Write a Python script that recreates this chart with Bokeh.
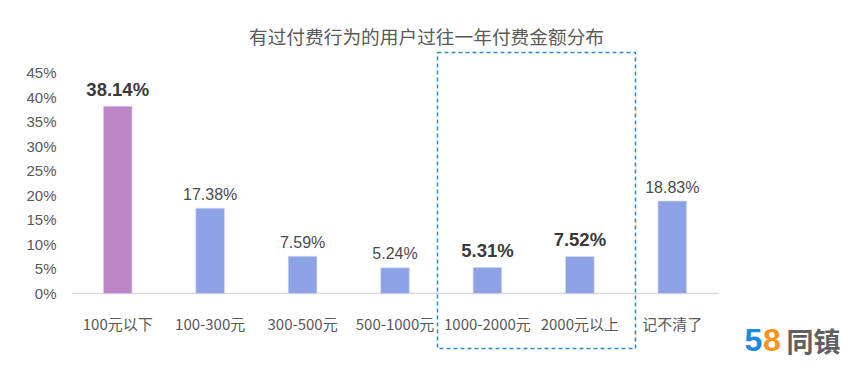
from bokeh.plotting import figure
from bokeh.models import Range1d, FixedTicker, PrintfTickFormatter, ColumnDataSource
from bokeh.core.properties import value
from bokeh.embed import file_html
from bokeh.resources import INLINE

# ---- data ----
categories = ["100元以下", "100-300元", "300-500元", "500-1000元",
              "1000-2000元", "2000元以上", "记不清了"]
shares = [38.14, 17.38, 7.59, 5.24, 5.31, 7.52, 18.83]
label_texts = ["38.14%", "17.38%", "7.59%", "5.24%", "5.31%", "7.52%", "18.83%"]
y_ticks = [0, 5, 10, 15, 20, 25, 30, 35, 40, 45]
title_text = "有过付费行为的用户过往一年付费金额分布"

# ---- style ----
CJK = "Noto Sans CJK SC"
LAT = "Liberation Sans"
PURPLE = "#bd84c6"
BLUE = "#8ca2e4"
W, H = 864, 368
FL, FR, FT, FB = 71, 718, 72, 293   # pixel edges of the bar area
Y_MAX = 45
n = len(categories)
UNIT = (FR - FL) / n                  # pixels per category


def dx(px):
    return (px - FL) / UNIT


def dy(py):
    return (FB - py) / (FB - FT) * Y_MAX


xs = [i + 0.5 for i in range(n)]
bar_colors = [PURPLE if i == 0 else BLUE for i in range(n)]
bold_idx = {0, 4, 5}
font_sizes = ["18.5px" if i in bold_idx else "16px" for i in range(n)]
font_styles = ["bold" if i in bold_idx else "normal" for i in range(n)]
label_colors = ["#3a3a3a" if i in bold_idx else "#4a4a4a" for i in range(n)]
label_offsets = [-17 if i in bold_idx else -14 for i in range(n)]

src = ColumnDataSource(dict(x=xs, cat=categories, val=shares, color=bar_colors,
                            lab=label_texts, fs=font_sizes, fst=font_styles,
                            lc=label_colors, yo=label_offsets, zero=[0] * n))

p = figure(width=W, height=H,
           x_range=Range1d(0, dx(W)), y_range=Range1d(dy(H), dy(0)),
           output_backend="svg", toolbar_location=None, x_axis_location=None,
           min_border_left=FL, min_border_right=0,
           min_border_top=0, min_border_bottom=0)
p.outline_line_color = None
p.xgrid.grid_line_color = None
p.ygrid.grid_line_color = None
p.background_fill_color = "white"
p.border_fill_color = "white"

# baseline (x axis line)
p.segment(x0=[0], y0=[0], x1=[n], y1=[0], line_color="#d9d9d9", line_width=1.5)

# bars
p.vbar(x="x", top="val", bottom=0, width=0.31, fill_color="color",
       line_color="#d6dcf5", line_width=1, line_alpha=0.6, source=src)

# data labels
p.text(x="x", y="val", text="lab", text_font=value(LAT), text_font_size="fs",
       text_font_style="fst", text_color="lc", text_align="center",
       text_baseline="middle", y_offset="yo", source=src)

# category labels
p.text(x="x", y="zero", text="cat", text_font=value(CJK), text_font_size="15px",
       text_color="#595959", text_align="center", text_baseline="middle",
       y_offset=30, source=src)

# y axis
ya = p.yaxis[0]
ya.ticker = FixedTicker(ticks=y_ticks)
ya.formatter = PrintfTickFormatter(format="%d%%")
ya.axis_line_color = None
ya.major_tick_line_color = None
ya.minor_tick_line_color = None
ya.major_tick_out = 0
ya.major_tick_in = 0
ya.major_label_standoff = 15
ya.major_label_text_font = LAT
ya.major_label_text_font_size = "15px"
ya.major_label_text_color = "#595959"

# dashed highlight box
p.quad(left=[dx(437)], right=[dx(635)], top=[dy(52)], bottom=[dy(348)],
       fill_color=None, line_color="#2e86cc", line_width=1.5, line_dash="4 3")

# title
p.text(x=[dx(426)], y=[dy(35)], text=[title_text], text_font=value(CJK),
       text_font_size="18.7px", text_color="#595959", text_align="center",
       text_baseline="middle")

# logo
p.text(x=[dx(744)], y=[dy(339)], text=["5"], text_font=value(LAT),
       text_font_size="32px", text_font_style="bold", text_color="#1e88e5",
       text_align="left", text_baseline="middle")
p.text(x=[dx(762.5)], y=[dy(339)], text=["8"], text_font=value(LAT),
       text_font_size="32px", text_font_style="bold", text_color="#f7941d",
       text_align="left", text_baseline="middle")
p.text(x=[dx(786)], y=[dy(340)], text=["同镇"], text_font=value(CJK),
       text_font_size="27px", text_font_style="bold", text_color="#606060",
       text_align="left", text_baseline="middle")

open("out.html", "w").write(file_html(p, INLINE))
